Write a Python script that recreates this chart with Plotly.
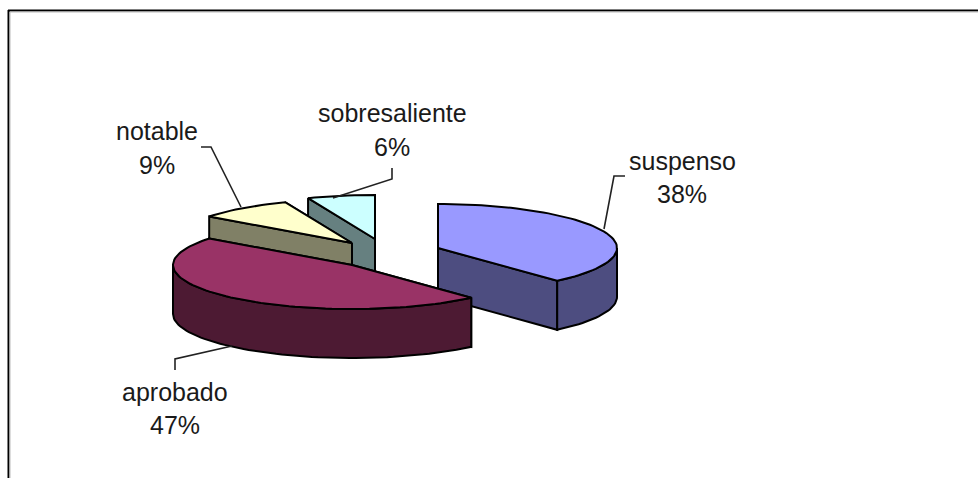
import math
import plotly.graph_objects as go

# ---- data ----
categories = ["suspenso", "aprobado", "notable", "sobresaliente"]
values = [38.4, 46.9, 8.6, 6.1]

# ---- style / layout ----
top_colors = ["#9999FF", "#993366", "#FFFFCC", "#CCFFFF"]
side_colors = ["#4D4D80", "#4D1A33", "#808066", "#668080"]
centers = [(438, 248), (352, 265), (352, 243), (375, 239)]  # exploded slice apexes
label_x = [682, 175, 157, 392]
label_y = [(161, 194), (392, 425), (131, 165), (113, 147)]
draw_order = [3, 2, 0, 1]
RX, RY, DEPTH = 179, 44, 49
FONT = "Liberation Sans, Arial, sans-serif"
FONT_SIZE = 25

leaders = [
    "M 625 176 L 614 176 L 604 229",
    "M 175 370 L 175 359 L 232 346",
    "M 201 147 L 211 147 L 241 207",
    "M 392 168 L 392 179 L 333 198",
]

total = sum(values)
starts, acc = [], 0.0
for v in values:
    starts.append(acc / total * 360)
    acc += v


def rim(c, deg, dz=0):
    a = math.radians(deg)
    return c[0] + RX * math.sin(a), c[1] - RY * math.cos(a) + dz


def arc(c, a0, a1, dz=0):
    n = max(2, int(abs(a1 - a0) / 2))
    return [rim(c, a0 + (a1 - a0) * i / n, dz) for i in range(n + 1)]


def poly(fig, pts, color, width=2):
    fig.add_trace(go.Scatter(
        x=[p[0] for p in pts] + [pts[0][0]],
        y=[p[1] for p in pts] + [pts[0][1]],
        mode="lines", fill="toself", fillcolor=color,
        line=dict(color="#000000", width=width, shape="linear"),
        hoverinfo="skip", showlegend=False,
    ))


fig = go.Figure()
for i in draw_order:
    c = centers[i]
    a0 = starts[i]
    a1 = a0 + values[i] / total * 360
    low = (c[0], c[1] + DEPTH)
    # radial faces, back to front
    for a in sorted((a0, a1), key=lambda d: rim(c, d)[1]):
        poly(fig, [c, rim(c, a), rim(c, a, DEPTH), low], side_colors[i])
    # outer wall: only the part facing the viewer
    w0, w1 = max(a0, 90), min(a1, 270)
    if w1 > w0:
        poly(fig, arc(c, w0, w1) + arc(c, w1, w0, DEPTH), side_colors[i])
    # top face
    poly(fig, [c] + arc(c, a0, a1), top_colors[i])

annotations = []
for i, name in enumerate(categories):
    for txt, y in zip((name, f"{round(values[i])}%"), label_y[i]):
        annotations.append(dict(
            x=label_x[i], y=y, text=txt, showarrow=False, xanchor="center", yanchor="middle",
            font=dict(family=FONT, size=FONT_SIZE, color="#1a1a1a"),
        ))

shapes = [dict(type="path", path=p, line=dict(color="#222222", width=1.6)) for p in leaders]
shapes += [
    dict(type="line", x0=8.5, x1=8.5, y0=10, y1=478, line=dict(color="#000000", width=2)),
    dict(type="line", x0=8, x1=978, y0=10.5, y1=10.5, line=dict(color="#000000", width=2)),
    dict(type="line", x0=10, x1=10, y0=12, y1=478, line=dict(color="#BBBBBB", width=1)),
    dict(type="line", x0=10, x1=978, y0=12, y1=12, line=dict(color="#BBBBBB", width=1)),
]

fig.update_layout(
    width=978, height=478,
    margin=dict(l=0, r=0, t=0, b=0),
    paper_bgcolor="#FFFFFF", plot_bgcolor="#FFFFFF",
    xaxis=dict(range=[0, 978], visible=False, fixedrange=True),
    yaxis=dict(range=[478, 0], visible=False, fixedrange=True),
    annotations=annotations, shapes=shapes, showlegend=False,
)
fig.write_html(
    "out.html",
    config={"displayModeBar": False},
    post_script="document.body.style.margin='0';document.documentElement.style.overflow='hidden';",
)
